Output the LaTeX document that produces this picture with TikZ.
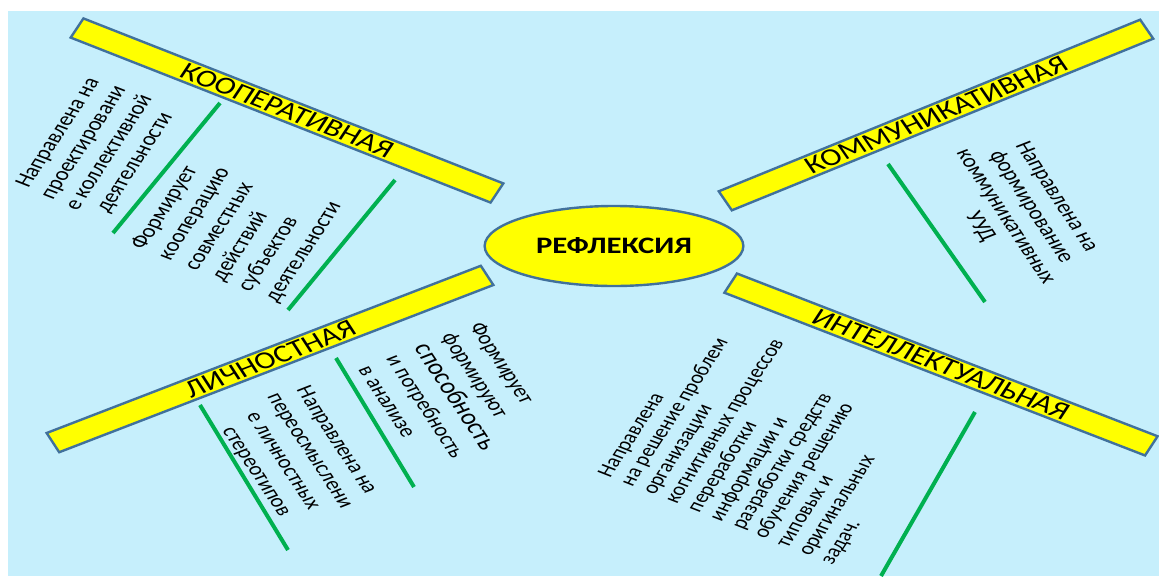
\documentclass[tikz,border=0pt]{standalone}
\usepackage{fontspec}
\setmainfont{Carlito}
\usetikzlibrary{shapes.geometric}
\definecolor{bgblue}{HTML}{C6EFFC}
\definecolor{barline}{HTML}{41719C}
\definecolor{leafgreen}{HTML}{00B050}
\definecolor{baryellow}{HTML}{FFFF00}
\tikzset{
  barnode/.style={draw=barline, fill=baryellow, line width=2.4pt, rectangle,
    minimum width=#1, minimum height=21.5pt, inner sep=0pt, transform shape,
    font=\fontsize{24.5}{26}\selectfont},
  hubnode/.style={draw=barline, fill=baryellow, line width=2.4pt, ellipse,
    minimum width=199pt, minimum height=80pt, inner sep=0pt, transform shape,
    font=\fontsize{23.6}{25}\selectfont\bfseries},
  leaftext/.style={transform shape, inner sep=0pt, text=black},
  stem/.style={draw=leafgreen, line width=4pt}
}
\begin{document}
\begin{tikzpicture}[x=1pt,y=-1pt]
\useasboundingbox (0,0) rectangle (1159,576);
\fill[white] (0,0) rectangle (1159,576);
\fill[bgblue] (8,11) rectangle (1159,576);

% green stems
\coordinate (s1a) at (220,103); \coordinate (s1b) at (113,233);
\coordinate (s2a) at (395,180); \coordinate (s2b) at (288,310);
\coordinate (s3a) at (888,164); \coordinate (s3b) at (985,302);
\coordinate (s4a) at (200,405); \coordinate (s4b) at (288,550);
\coordinate (s5a) at (336,358); \coordinate (s5b) at (414,487);
\coordinate (s6a) at (975,412); \coordinate (s6b) at (881,576);
\draw[stem] (s1a) -- (s1b);
\draw[stem] (s2a) -- (s2b);
\draw[stem] (s3a) -- (s3b);
\draw[stem] (s4a) -- (s4b);
\draw[stem] (s5a) -- (s5b);
\draw[stem] (s6a) -- (s6b);

\begin{scope}[x=0.769231pt, y=-1pt, xscale=1.3]
  \node[hubnode] (hub) at (614,246) {РЕФЛЕКСИЯ};
  \node[barnode=362.7pt, rotate=-27.06] (coop) at (287,110.5) {КООПЕРАТИВНАЯ};
  \node[barnode=366.8pt, rotate=27.9] (comm) at (936,115) {КОММУНИКАТИВНАЯ};
  \node[barnode=373.5pt, rotate=26.6] (lich) at (270,359) {ЛИЧНОСТНАЯ};
  \node[barnode=362.2pt, rotate=-26.7] (intel) at (941,364.5) {ИНТЕЛЛЕКТУАЛЬНАЯ};

  \node[leaftext, rotate=63, align=center, font=\fontsize{19}{22}\selectfont] (coopA) at (97,148)
    {Направлена на\\проектировани\\е коллективной\\деятельности};
  \node[leaftext, rotate=63, align=left, font=\fontsize{19}{23}\selectfont] (coopB) at (237,226)
    {Формирует\\кооперацию\\совместных\\действий\\субъектов\\деятельности};
  \node[leaftext, rotate=-63, align=center, font=\fontsize{19}{22}\selectfont] (commA) at (1018,212)
    {Направлена на\\формирование\\коммуникативных\\УУД};
  \node[leaftext, rotate=-63, align=center, font=\fontsize{18.5}{23}\selectfont] (lichA) at (296,456)
    {Направлена на\\переосмыслени\\е личностных\\стереотипов};
  \node[leaftext, rotate=-63, align=left, font=\fontsize{18.5}{24}\selectfont] (lichB) at (455,397)
    {Формирует\\формируют\\{\fontsize{22}{24}\selectfont способность}\\и потребность\\в анализе};
  \node[leaftext, rotate=63, align=left, font=\fontsize{18}{19.2}\selectfont] (intelA) at (770,439)
    {Направлена\\на решение проблем\\организации\\когнитивных процессов\\переработки\\информации и\\разработки средств\\обучения решению\\типовых и\\оригинальных\\задач.};
\end{scope}
\end{tikzpicture}
\end{document}
